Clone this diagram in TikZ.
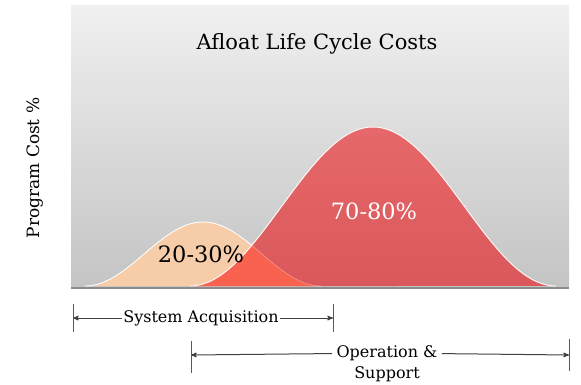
\documentclass[tikz,border=0pt]{standalone}
\usepackage{fontspec}
\setmainfont{DejaVu Serif}
\usetikzlibrary{arrows}
\definecolor{peach}{HTML}{F6CDA8}
\definecolor{costred}{HTML}{E7686A}
\definecolor{costreddark}{HTML}{DA585B}
\definecolor{overlapred}{HTML}{F9624F}
\definecolor{panetop}{HTML}{F0F0F0}
\definecolor{panebottom}{HTML}{C4C4C4}

\begin{document}
\begin{tikzpicture}[x=1pt,y=-1pt,
    thick,
    >=stealth',
    dimline/.style = {
      draw = black!75,
      line width = 1pt
    },
    tickline/.style = {
      draw = black!65,
      line width = 1pt
    },
    lbl/.style = {
      font = \fontsize{16}{18}\selectfont,
      inner sep = 1pt
    },
    pct/.style = {
      font = \fontsize{22.5}{26}\selectfont
    }
  ]
  \useasboundingbox (0,0) rectangle (581,385);

  \def\acqcurve{plot[domain=85:321, samples=90, smooth] (\x, {286-64*(0.5+0.5*cos((\x-203)/118*180))})}
  \def\opscurve{plot[domain=190:556, samples=120, smooth] (\x, {286-159*(0.5+0.5*cos((\x-373)/183*180))})}

  % plot area
  \shade[top color=panetop, bottom color=panebottom] (71,6) rectangle (569,286);
  \draw[gray!90, line width=2pt] (71,287.5) -- (569,287.5);

  \fill[peach] \acqcurve -- cycle;
  \draw[white, line width=0.8pt] \acqcurve;
  \shade[top color=costred, bottom color=costreddark] \opscurve -- cycle;
  \begin{scope}
    \clip \acqcurve -- cycle;
    \fill[overlapred] \opscurve -- cycle;
  \end{scope}
  \draw[white, opacity=0.35, line width=0.6pt] \acqcurve;
  \draw[white!85!pink, line width=1pt] \opscurve;

  \node[font=\fontsize{21}{25}\selectfont] (title) at (317,44) {Afloat Life Cycle Costs};
  \node[font=\fontsize{17}{20}\selectfont, rotate=90] (yaxis) at (35,168) {Program Cost \%};
  \node[pct] (acq) at (201,254) {20-30\%};
  \node[pct, white] (ops) at (374,211) {70-80\%};

  % dimension lines
  \node[lbl] (sa) at (201,318) {System Acquisition};
  \coordinate (saL) at (73,318);
  \coordinate (saR) at (333,318);
  \draw[dimline, ->] (sa) -- (saL);
  \draw[dimline, ->] (sa) -- (saR);
  \draw[tickline] ([yshift=14pt]saL) -- ([yshift=-14pt]saL);
  \draw[tickline] ([yshift=14pt]saR) -- ([yshift=-14pt]saR);

  \node[lbl, inner sep=4pt] (os) at (387,353) {Operation \&};
  \node[lbl] (sup) at (387,374) {Support};
  \coordinate (osL) at (191,355);
  \coordinate (osR) at (569,355);
  \draw[dimline, ->] (os) -- (osL);
  \draw[dimline, ->] (os) -- (osR);
  \draw[tickline] ([yshift=14pt]osL) -- ([yshift=-18pt]osL);
  \draw[tickline] ([yshift=16pt]osR) -- ([yshift=-16pt]osR);
\end{tikzpicture}
\end{document}
